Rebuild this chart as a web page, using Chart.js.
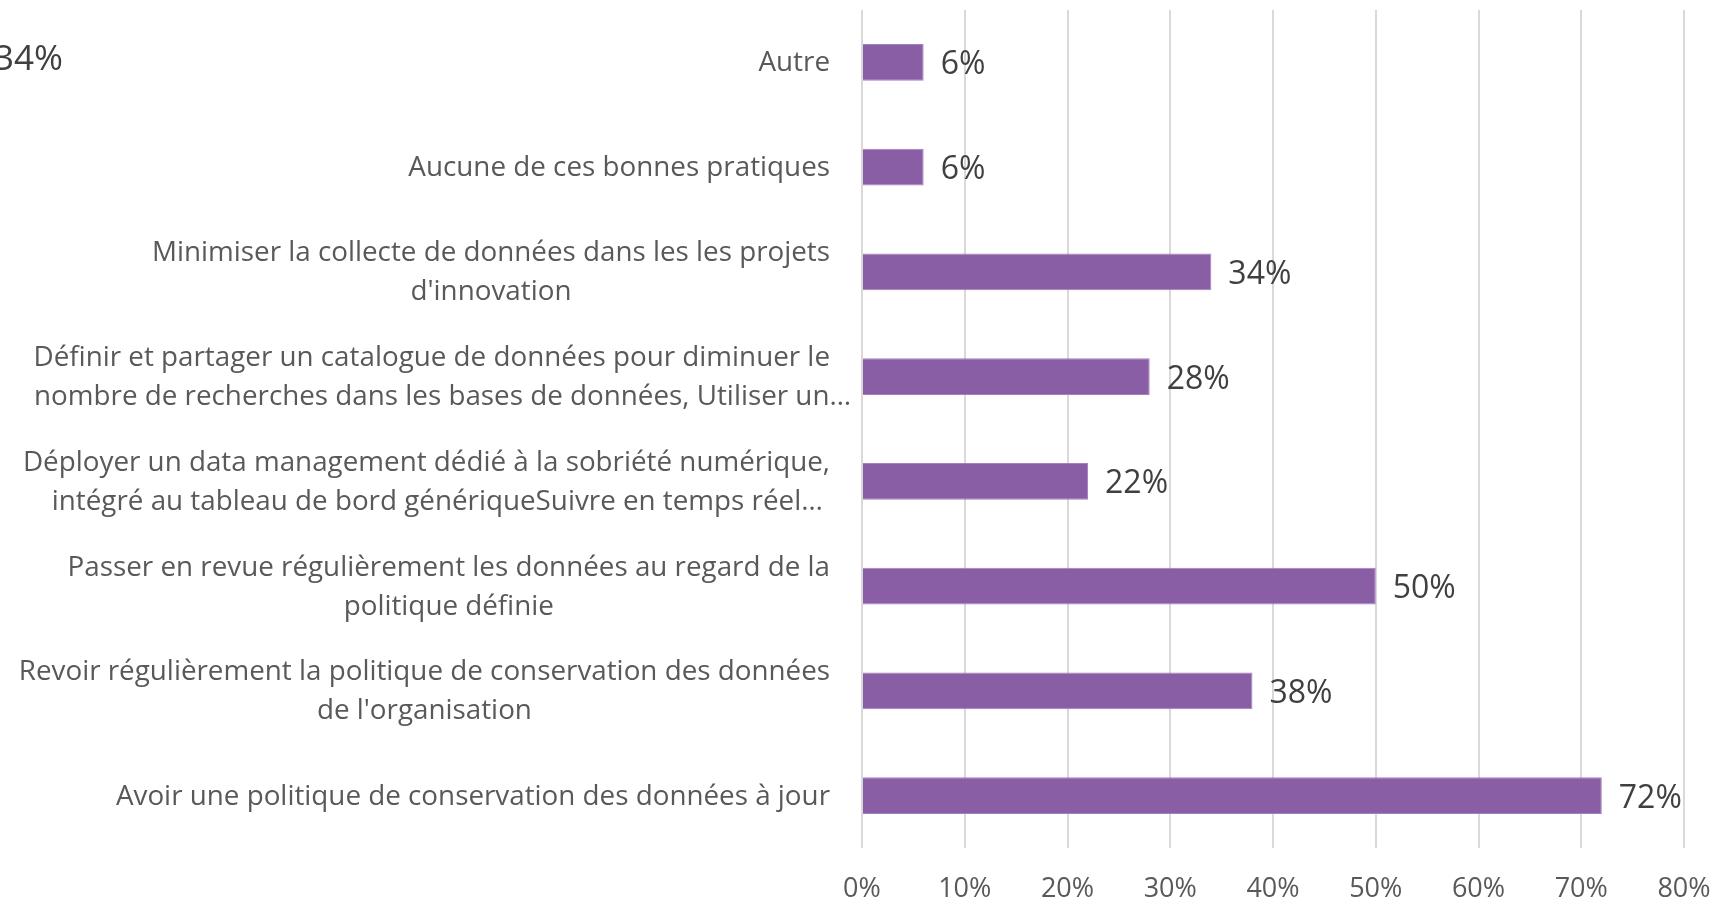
<!DOCTYPE html>
<html>
<head>
<meta charset="utf-8">
<script src="https://cdn.jsdelivr.net/npm/chart.js@4"></script>
<style>
  body { margin: 0; background: #fff; }
  #wrap { width: 1730px; height: 902px; position: relative; }
</style>
</head>
<body>
<div id="wrap"><canvas id="chart"></canvas></div>
<script>
// data
const categories = [
    ['Autre'],
    ['Aucune de ces bonnes pratiques'],
    ['Minimiser la collecte de données dans les les projets', "d'innovation"],
    ['Définir et partager un catalogue de données pour diminuer le', 'nombre de recherches dans les bases de données, Utiliser un…'],
    ['Déployer un data management dédié à la sobriété numérique,', 'intégré au tableau de bord génériqueSuivre en temps réel…'],
    ['Passer en revue régulièrement les données au regard de la', 'politique définie'],
    ['Revoir régulièrement la politique de conservation des données', "de l'organisation"],
    ['Avoir une politique de conservation des données à jour']
];
const values = [6, 6, 34, 28, 22, 50, 38, 72];
const tickLabels = ['0%', '10%', '20%', '30%', '40%', '50%', '60%', '70%', '80%'];
const strayLabel = '34%';   // leftover label cut at the left edge

const fontFamily = '"Open Sans", "DejaVu Sans", sans-serif';

// draws category labels (centered block, right aligned), value labels, stray label
const labelPlugin = {
    id: 'labels',
    afterDraw(chart) {
        const ctx = chart.ctx;
        const yScale = chart.scales.y;
        ctx.save();

        ctx.font = '27.8px ' + fontFamily;
        ctx.fillStyle = '#595959';
        ctx.textBaseline = 'middle';
        ctx.textAlign = 'left';
        const right = yScale.right - 32;
        const lineH = 39;
        categories.forEach((lines, i) => {
            const y = yScale.getPixelForTick(i) + 1;
            // truncated lines are centred without their ellipsis
            const widths = lines.map(l => ctx.measureText(l.replace(/…$/, '')).width);
            const maxW = Math.max(...widths);
            const cx = right - maxW / 2;
            const y0 = y - (lines.length - 1) * lineH / 2;
            lines.forEach((l, j) => ctx.fillText(l, cx - widths[j] / 2, y0 + j * lineH));
        });

        ctx.font = '32px ' + fontFamily;
        ctx.fillStyle = '#404040';
        chart.getDatasetMeta(0).data.forEach((bar, i) => {
            ctx.fillText(values[i] + '%', bar.x + 17, bar.y + 3);
        });

        ctx.font = '35px ' + fontFamily;
        ctx.fillText(strayLabel, -6, 60);
        ctx.restore();
    }
};

const ctx = document.getElementById('chart');

new Chart(ctx, {
    type: 'bar',
    data: {
        labels: categories,
        datasets: [{
            data: values,
            backgroundColor: '#895EA5',
            borderColor: '#A47FC2',
            borderWidth: 1,
            barPercentage: 0.353,
            categoryPercentage: 1
        }]
    },
    options: {
        indexAxis: 'y',
        responsive: true,
        maintainAspectRatio: false,
        animation: false,
        layout: { padding: { left: 0, right: 46, top: 10, bottom: 0 } },
        plugins: {
            legend: { display: false },
            tooltip: { enabled: false }
        },
        scales: {
            x: {
                min: 0,
                max: 80,
                ticks: {
                    stepSize: 10,
                    padding: 25,
                    color: '#595959',
                    font: { size: 27, family: fontFamily },
                    callback: (v, i) => tickLabels[i]
                },
                grid: { color: '#D9D9D9', lineWidth: 2, drawTicks: false },
                border: { display: false },
                afterFit: scale => {
                    scale.height = 54;
                    scale.paddingLeft = 0;
                    scale.paddingRight = 0;
                }
            },
            y: {
                ticks: { display: false },
                grid: { display: false },
                border: { display: false },
                afterFit: scale => { scale.width = 862; }
            }
        }
    },
    plugins: [labelPlugin]
});
</script>
</body>
</html>
